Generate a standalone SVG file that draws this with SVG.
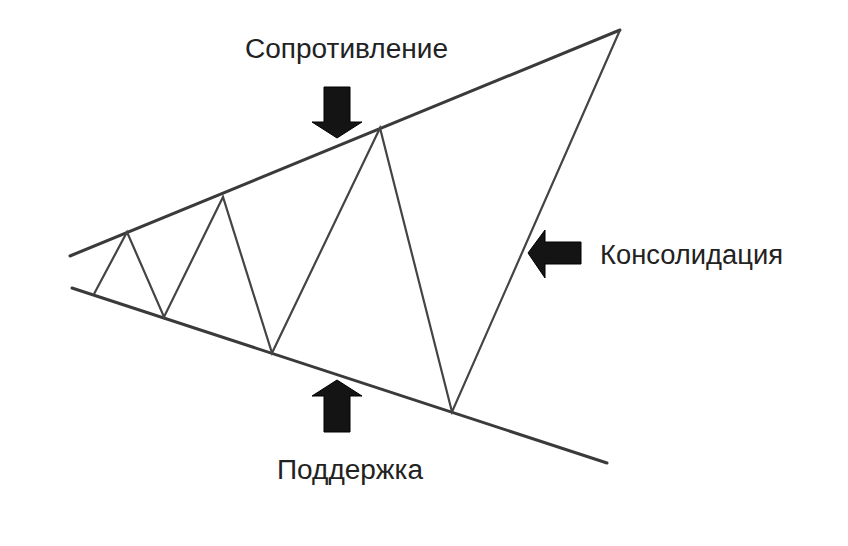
<svg xmlns="http://www.w3.org/2000/svg" width="848" height="546" viewBox="0 0 848 546">
<style>
.bound{stroke:#3a3a3a;stroke-width:3;fill:none;stroke-linecap:round}
.zig{stroke:#444;stroke-width:2.2;fill:none;stroke-linejoin:miter}
.arrow{fill:#141414;stroke:#000;stroke-width:1}
.lbl{font-family:"Liberation Sans","DejaVu Sans",sans-serif;font-size:27px;fill:#222}
</style>
<rect width="848" height="546" fill="#fff"/>
<g id="connectors">
<line class="bound" x1="70" y1="256" x2="620" y2="30"/>
<line class="bound" x1="72" y1="288" x2="607" y2="463"/>
<polyline class="zig" points="94,294 127,232 164,317 223,197 272,353 380,128 452,412 620,30"/>
</g>
<g id="resistance">
<polygon class="arrow" points="324,87 350,87 350,122 362,122 337,138 312,122 324,122"/>
<text class="lbl" x="245" y="58" textLength="203" lengthAdjust="spacingAndGlyphs">Сопротивление</text>
</g>
<g id="consolidation">
<polygon class="arrow" points="581,242 581,264 545,264 545,278 528,253 545,230 545,242"/>
<text class="lbl" x="600" y="264" textLength="183" lengthAdjust="spacingAndGlyphs">Консолидация</text>
</g>
<g id="support">
<polygon class="arrow" points="324,432 350,432 350,396 362,396 337,380 312,396 324,396"/>
<text class="lbl" x="277" y="479" textLength="146" lengthAdjust="spacingAndGlyphs">Поддержка</text>
</g>
</svg>
